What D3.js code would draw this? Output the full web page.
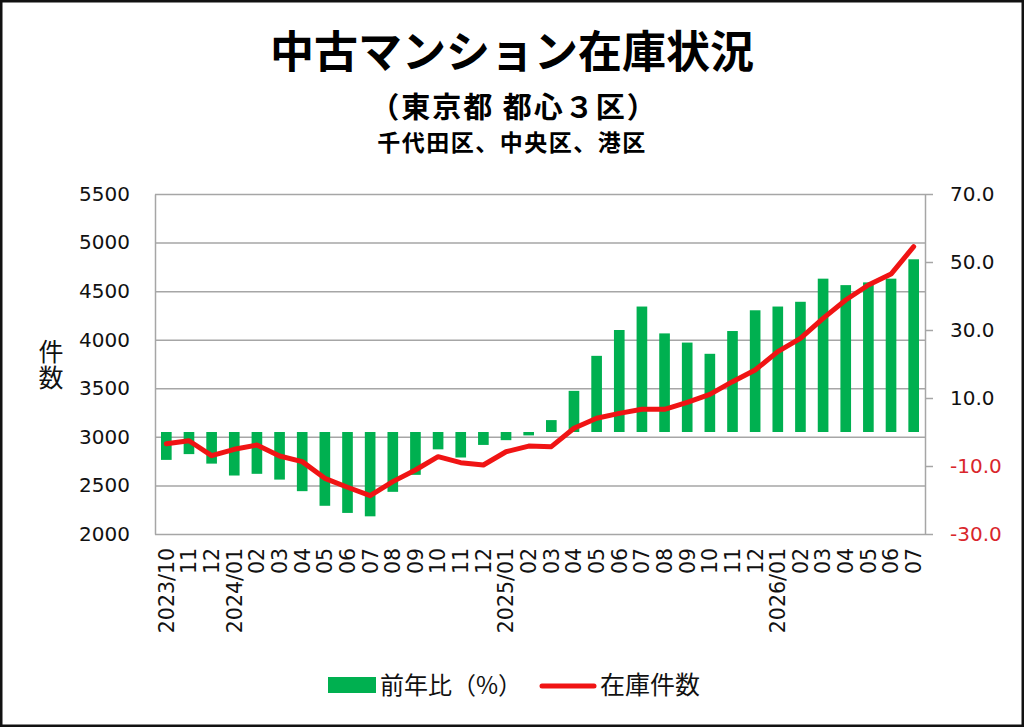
<!DOCTYPE html>
<html>
<head>
<meta charset="utf-8">
<script src="https://cdn.jsdelivr.net/npm/d3@7"></script>
<style>
  body { margin: 0; background: #fff; }
  svg { display: block; }
</style>
</head>
<body>
<script>
// ---- data ----
const months = ["2023/10", "11", "12",
  "2024/01", "02", "03", "04", "05", "06", "07", "08", "09", "10", "11", "12",
  "2025/01", "02", "03", "04", "05", "06", "07", "08", "09", "10", "11", "12",
  "2026/01", "02", "03", "04", "05", "06", "07"];

// 前年比 (%)
const yoy = [-8.2, -6.5, -9.3,
  -12.8, -12.3, -14.0, -17.4, -21.7, -23.8, -24.8, -17.6, -12.6, -5.1, -7.5, -3.8,
  -2.4, -1.0, 3.5, 12.1, 22.4, 30.0, 36.9, 29.0, 26.3, 23.0, 29.7, 35.8,
  36.9, 38.3, 45.1, 43.2, 44.0, 45.1, 50.8];

// 在庫件数
const stock = [2930, 2960, 2806,
  2872, 2916, 2803, 2745, 2573, 2481, 2395, 2539, 2659, 2796, 2734, 2710,
  2847, 2905, 2899, 3088, 3191, 3242, 3284, 3284, 3356, 3438, 3568, 3688,
  3877, 4014, 4220, 4409, 4563, 4676, 4958];

const leftTicks = [2000, 2500, 3000, 3500, 4000, 4500, 5000, 5500];
const rightTicks = [-30, -10, 10, 30, 50, 70];

// ---- layout ----
const width = 1024;
const height = 727;
const plot = { left: 155, right: 925, top: 194, bottom: 534 };
const jp = '"Noto Sans CJK JP", sans-serif';
const num = '"DejaVu Sans", sans-serif';
const gridColor = "#a6a6a6";

const svg = d3.select("body").append("svg")
  .attr("width", width)
  .attr("height", height);

// outer frame
svg.append("rect")
  .attr("x", 1.25).attr("y", 1.25)
  .attr("width", width - 2.5).attr("height", height - 2.5)
  .attr("fill", "#fff")
  .attr("stroke", "#111")
  .attr("stroke-width", 2.5);

// titles
svg.append("text")
  .attr("x", 512).attr("y", 68)
  .attr("text-anchor", "middle")
  .style("font-family", jp).style("font-weight", 700).style("font-size", "44px")
  .text("中古マンション在庫状況");

svg.append("text")
  .attr("x", 514).attr("y", 118)
  .attr("text-anchor", "middle")
  .style("font-family", jp).style("font-weight", 700).style("font-size", "29px")
  .style("letter-spacing", "2px")
  .text("（東京都 都心３区）");

svg.append("text")
  .attr("x", 512).attr("y", 151)
  .attr("text-anchor", "middle")
  .style("font-family", jp).style("font-weight", 700).style("font-size", "23px")
  .style("letter-spacing", "1.5px")
  .text("千代田区、中央区、港区");

// ---- scales ----
const x = d3.scaleBand()
  .domain(months.map((d, i) => i))
  .range([plot.left, plot.right])
  .paddingInner(0.53)
  .paddingOuter(0.265);

const yLeft = d3.scaleLinear().domain([2000, 5500]).range([plot.bottom, plot.top]);
const yRight = d3.scaleLinear().domain([-30, 70]).range([plot.bottom, plot.top]);

// left axis + gridlines
const gLeft = svg.append("g")
  .attr("transform", `translate(${plot.left},0)`)
  .call(d3.axisLeft(yLeft)
    .tickValues(leftTicks)
    .tickSizeInner(-(plot.right - plot.left))
    .tickSizeOuter(0)
    .tickPadding(25)
    .tickFormat(d3.format("d")));
gLeft.selectAll("line").attr("stroke", gridColor).attr("stroke-width", 1.5);
gLeft.select(".domain").attr("stroke", gridColor).attr("stroke-width", 1.5);
gLeft.selectAll("text")
  .style("font-family", num).style("font-size", "20px").attr("fill", "#111");

// right axis (plain hyphen for negatives, like the reference)
const gRight = svg.append("g")
  .attr("transform", `translate(${plot.right},0)`)
  .call(d3.axisRight(yRight)
    .tickValues(rightTicks)
    .tickSizeInner(8)
    .tickSizeOuter(0)
    .tickPadding(17)
    .tickFormat(d => d.toFixed(1)));
gRight.selectAll("line").attr("stroke", gridColor).attr("stroke-width", 1.5);
gRight.select(".domain").attr("stroke", gridColor).attr("stroke-width", 1.5);
gRight.selectAll("text")
  .style("font-family", num).style("font-size", "20px")
  .attr("fill", d => d < 0 ? "#d9262b" : "#111");

// y axis title, written vertically
svg.append("text")
  .attr("x", 51).attr("y", 339)
  .style("writing-mode", "vertical-rl")
  .style("text-orientation", "upright")
  .style("letter-spacing", "1px")
  .style("font-family", jp).style("font-size", "25px").attr("fill", "#111")
  .text("件数");

// bars
svg.append("g").selectAll("rect")
  .data(yoy)
  .join("rect")
  .attr("x", (d, i) => x(i))
  .attr("width", x.bandwidth())
  .attr("y", d => yRight(Math.max(0, d)))
  .attr("height", d => Math.abs(yRight(d) - yRight(0)))
  .attr("fill", "#00b050");

// line
const line = d3.line()
  .x((d, i) => x(i) + x.bandwidth() / 2)
  .y(d => yLeft(d));

svg.append("path")
  .datum(stock)
  .attr("d", line)
  .attr("fill", "none")
  .attr("stroke", "#f01414")
  .attr("stroke-width", 5)
  .attr("stroke-linejoin", "round")
  .attr("stroke-linecap", "round");

// x axis labels
const gBottom = svg.append("g")
  .attr("transform", `translate(0,${plot.bottom})`)
  .call(d3.axisBottom(x).tickSize(0).tickFormat(i => months[i]));
gBottom.select(".domain").remove();
gBottom.selectAll("text")
  .attr("transform", "rotate(-90)")
  .attr("x", -14)
  .attr("y", 0)
  .attr("dy", "0.36em")
  .attr("text-anchor", "end")
  .style("font-family", num).style("font-size", "20.5px").attr("fill", "#111");

// legend
const legend = svg.append("g");
legend.append("rect")
  .attr("x", 328).attr("y", 677)
  .attr("width", 48).attr("height", 16)
  .attr("fill", "#00b050");
legend.append("text")
  .attr("x", 380).attr("y", 694)
  .style("font-family", jp).style("font-size", "24px").attr("fill", "#111")
  .text("前年比（%）");
legend.append("line")
  .attr("x1", 542).attr("x2", 594)
  .attr("y1", 686).attr("y2", 686)
  .attr("stroke", "#f01414").attr("stroke-width", 5)
  .attr("stroke-linecap", "round");
legend.append("text")
  .attr("x", 600).attr("y", 694)
  .style("font-family", jp).style("font-size", "25px").attr("fill", "#111")
  .text("在庫件数");
</script>
</body>
</html>
